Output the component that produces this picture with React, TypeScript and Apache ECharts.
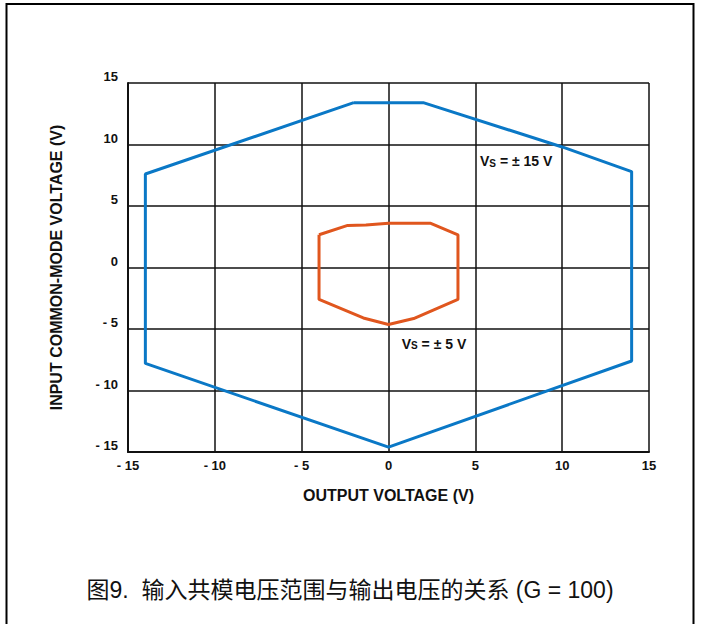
import React, { useEffect, useRef } from 'react';
import * as echarts from 'echarts';

// Tick labels
const xTickLabels: string[] = ['- 15', '- 10', '- 5', '0', '5', '10', '15'];
const yTickLabels: string[] = ['- 15', '- 10', '- 5', '0', '5', '10', '15'];

// Vs = ±15 V boundary (output voltage, input common-mode voltage), closed loop
const vs15Points: [number, number][] = [
  [-2, 13.4], [2, 13.4], [10, 9.8], [14, 7.8], [14, -7.6], [0, -14.6],
  [-14, -7.8], [-14, 7.6], [-2, 13.4],
];

// Vs = ±5 V boundary, closed loop
const vs5Points: [number, number][] = [
  [-4, 2.66], [-2.35, 3.42], [-1.3, 3.45], [0, 3.6], [2.4, 3.6], [4, 2.66],
  [4, -2.6], [1.45, -4.15], [0, -4.64], [-1.45, -4.1], [-4, -2.6], [-4, 2.66],
];

// Annotation anchors (data coordinates)
const label15At: [number, number] = [7.35, 8.7];
const label5At: [number, number] = [2.62, -6.1];

const caption = '图9.  输入共模电压范围与输出电压的关系 (G = 100)';

const FONT = '"Liberation Sans", Arial, sans-serif';
const INK = '#111';

function tickFmt(labels: string[]) {
  return (v: number) => labels[Math.round((v + 15) / 5)] ?? '';
}

const richLabel = {
  v: { fontFamily: FONT, fontWeight: 'bold' as const, fontSize: 14, color: INK, lineHeight: 16, verticalAlign: 'bottom' as const },
  s: { fontFamily: FONT, fontWeight: 'bold' as const, fontSize: 10, color: INK, lineHeight: 12, verticalAlign: 'bottom' as const },
};

export default function App() {
  const ref = useRef<HTMLDivElement>(null);
  useEffect(() => {
    document.body.style.margin = '0';
    if (!ref.current) return;
    const chart = echarts.init(ref.current, undefined, { renderer: 'svg' });
    const axisLabelStyle = { fontFamily: FONT, fontWeight: 'bold' as const, fontSize: 13, color: INK };
    const nameStyle = { fontFamily: FONT, fontWeight: 'bold' as const, fontSize: 16, color: INK };
    chart.setOption({
      animation: false,
      backgroundColor: '#ffffff',
      grid: { left: 128, right: 52, top: 83, bottom: 172, containLabel: false },
      xAxis: {
        type: 'value', min: -15, max: 15, interval: 5,
        name: 'OUTPUT VOLTAGE (V)', nameLocation: 'middle', nameGap: 35, nameTextStyle: nameStyle,
        axisLine: { show: true, onZero: false, lineStyle: { color: INK, width: 2 } },
        axisTick: { show: false },
        axisLabel: { ...axisLabelStyle, margin: 7, formatter: tickFmt(xTickLabels) },
        splitLine: { show: true, lineStyle: { color: INK, width: 1.5 } },
      },
      yAxis: {
        type: 'value', min: -15, max: 15, interval: 5,
        name: 'INPUT COMMON-MODE VOLTAGE (V)', nameLocation: 'middle', nameGap: 64, nameTextStyle: nameStyle,
        axisLine: { show: true, onZero: false, lineStyle: { color: INK, width: 2 } },
        axisTick: { show: false },
        axisLabel: { ...axisLabelStyle, margin: 10, verticalAlign: 'bottom', lineHeight: 13, formatter: tickFmt(yTickLabels) },
        splitLine: { show: true, lineStyle: { color: INK, width: 1.5 } },
      },
      series: [
        {
          type: 'line', data: vs15Points, showSymbol: false, symbol: 'none',
          lineStyle: { color: '#0a78c6', width: 3 },
          markPoint: {
            symbol: 'rect', symbolSize: 1, itemStyle: { color: 'rgba(0,0,0,0)' },
            label: { show: true, position: 'inside', formatter: '{v|V}{s|S}{v| = ± 15 V}', rich: richLabel },
            data: [{ coord: label15At }],
          },
        },
        {
          type: 'line', data: vs5Points, showSymbol: false, symbol: 'none',
          lineStyle: { color: '#e0561e', width: 3 },
          markPoint: {
            symbol: 'rect', symbolSize: 1, itemStyle: { color: 'rgba(0,0,0,0)' },
            label: { show: true, position: 'inside', formatter: '{v|V}{s|S}{v| = ± 5 V}', rich: richLabel },
            data: [{ coord: label5At }],
          },
        },
      ],
      graphic: [
        {
          type: 'rect', silent: true,
          shape: { x: 6.5, y: 4, width: 687, height: 660 },
          style: { fill: 'none', stroke: '#000', lineWidth: 2 },
        },
        {
          type: 'text', x: 350, y: 590,
          style: {
            text: caption, fill: INK, align: 'center', verticalAlign: 'middle',
            fontSize: 23, fontFamily: '"Liberation Sans", "Noto Sans CJK SC", sans-serif',
          },
        },
      ],
    });
    return () => chart.dispose();
  }, []);
  return <div ref={ref} style={{ width: 701, height: 624 }} />;
}
